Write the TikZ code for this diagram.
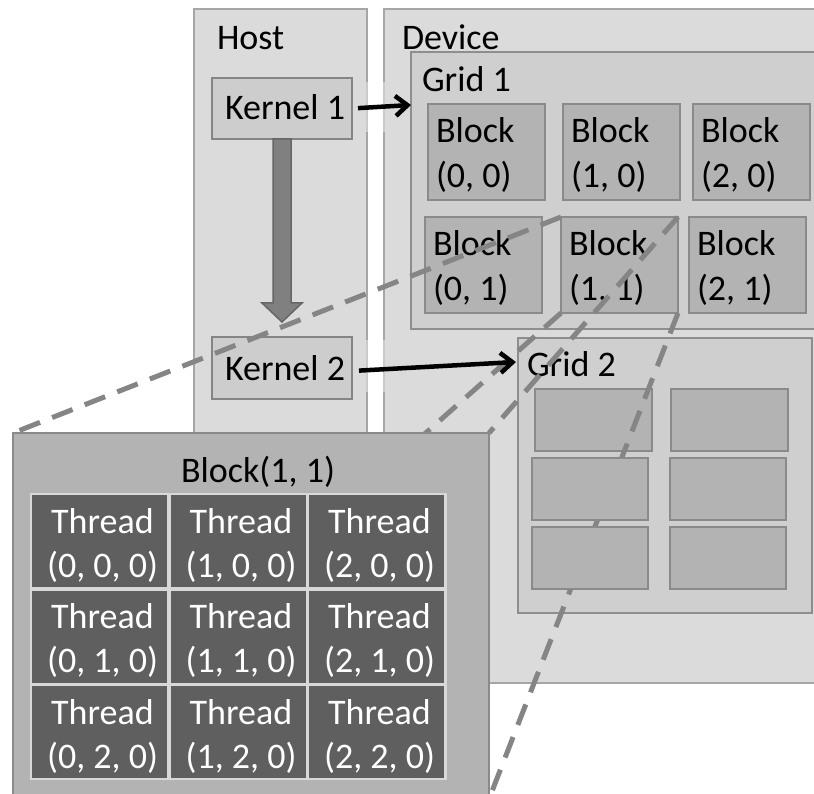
\documentclass[tikz,border=0pt]{standalone}
\usepackage{fontspec}
\setmainfont{Carlito}
\usetikzlibrary{arrows.meta,calc}

\definecolor{paneFill}{HTML}{DBDBDB}
\definecolor{paneEdge}{HTML}{A6A6A6}
\definecolor{paneGap}{HTML}{CACACA}
\definecolor{gridFill}{HTML}{CFCFCF}
\definecolor{gridEdge}{HTML}{8E8E8E}
\definecolor{blockFill}{HTML}{B3B3B3}
\definecolor{blockEdge}{HTML}{8A8A8A}
\definecolor{kernFill}{HTML}{CDCDCD}
\definecolor{kernEdge}{HTML}{858585}
\definecolor{fatFill}{HTML}{808080}
\definecolor{fatEdge}{HTML}{666666}
\definecolor{threadFill}{HTML}{5F5F5F}
\definecolor{threadSep}{HTML}{D8D8D8}
\definecolor{dashGray}{HTML}{858585}

% rectangle node given by its top-left corner and its size (in px-like pt)
\newcommand\boxnode[6]{%
  \node[#2, minimum width=#5pt, minimum height=#6pt] (#1) at (#3,#4) {};}

% one block of Grid 1 with its two-line label
\newcommand\gridblock[4]{%
  \boxnode{#1}{blockbox}{#2}{#3}{117}{96}
  \node[lbl] (#1-a) at ($(#1.north west)+(8,39)$) {Block};
  \node[lbl] (#1-b) at ($(#1.north west)+(8,84)$) {#4};}

\begin{document}
\begin{tikzpicture}[x=1pt,y=-1pt,
  box/.style={draw, line width=2pt, inner sep=0pt, outer sep=0pt, anchor=north west},
  pane/.style={box, fill=paneFill, draw=paneEdge},
  gridbox/.style={box, fill=gridFill, draw=gridEdge, line width=2.5pt},
  blockbox/.style={box, fill=blockFill, draw=blockEdge, line width=2.5pt},
  kernbox/.style={box, fill=kernFill, draw=kernEdge, line width=2.5pt},
  bigbox/.style={box, fill=blockFill, draw=blockEdge, line width=2.5pt},
  sepbox/.style={box, draw=none, fill=threadSep},
  cellbox/.style={box, draw=none, fill=threadFill},
  lbl/.style={font=\fontsize{36}{44}\selectfont, inner sep=0pt, outer sep=0pt, anchor=base west},
  tlbl/.style={lbl, anchor=base, text=white},
  conn/.style={line width=4.5pt, -{Straight Barb[length=12pt,width=20pt]}},
  fat/.style={fill=fatFill, draw=fatEdge, line width=1.5pt, line join=miter},
  proj/.style={draw=dashGray, line width=5pt, dash pattern=on 22pt off 13pt},
  gapmark/.style={draw=paneGap, line width=2.2pt}]

\useasboundingbox (0,0) rectangle (814,794);
\clip (0,0) rectangle (814,794);

% host and device panes
\boxnode{host}{pane}{194}{9}{173}{460}
\boxnode{device}{pane}{384}{9}{460}{674}
\node[lbl] (hostlbl) at (217,50) {Host};
\node[lbl] (devlbl) at (402,50) {Device};

% Grid 1
\boxnode{grid1}{gridbox}{411}{52}{430}{277}
\node[lbl] (g1lbl) at (422,92) {Grid 1};
\gridblock{b00}{428}{104}{(0, 0)}
\gridblock{b10}{563}{104}{(1, 0)}
\gridblock{b20}{693}{104}{(2, 0)}
\gridblock{b01}{425}{217}{(0, 1)}
\gridblock{b11}{561}{217}{(1, 1)}
\gridblock{b21}{689}{217}{(2, 1)}

% Grid 2 and its first row of blocks
\boxnode{grid2}{gridbox}{518}{338}{294}{275}
\node[lbl] (g2lbl) at (527,377) {Grid 2};
\boxnode{c00}{blockbox}{535}{389}{117}{62}
\boxnode{c10}{blockbox}{671}{389}{117}{62}

% kernels on the host
\boxnode{k1}{kernbox}{212}{78}{140}{61}
\boxnode{k2}{kernbox}{212}{337}{140}{62}
\node[lbl, anchor=base] (k1lbl) at (285,120) {Kernel 1};
\node[lbl, anchor=base] (k2lbl) at (285,381) {Kernel 2};

% launch order: fat arrow from Kernel 1 down to Kernel 2
\draw[fat] ($(k1.south)+(-9,0)$) -- ++(18,0) -- ++(0,164) -- ++(11,0)
  -- ++(-20,19) -- ++(-20,-19) -- ++(11,0) -- cycle;

% zoom-in projection of Block (1, 1)
\coordinate (bigNW) at (13,433);
\coordinate (bigNE) at (489,433);
\coordinate (bigSW) at (13,799);
\coordinate (bigSE) at (489,799);
\draw[proj] (b11.north west) -- (bigNW);
\draw[proj] (b11.north east) -- (bigNE);
\draw[proj] (b11.south west) -- (bigSW);
\draw[proj] (b11.south east) -- (bigSE);

% remaining blocks of Grid 2
\boxnode{c01}{blockbox}{532}{458}{116}{62}
\boxnode{c11}{blockbox}{670}{458}{116}{62}
\boxnode{c02}{blockbox}{532}{527}{116}{62}
\boxnode{c12}{blockbox}{670}{527}{116}{62}

% lighter spots on the pane borders where the launch arrows cross
\draw[gapmark] (367,82) -- (367,132);
\draw[gapmark] (384,82) -- (384,132);
\draw[gapmark] (367,340) -- (367,392);
\draw[gapmark] (384,340) -- (384,392);

% kernel launches
\coordinate (g1in) at (411,105);
\coordinate (g2in) at (516,362);
\draw[conn, shorten <=6pt] (k1.east) -- (g1in);
\draw[conn, shorten <=7pt] ($(k2.east)+(0,3)$) -- (g2in);

% enlarged Block (1, 1) with its threads
\node[bigbox, minimum width=476pt, minimum height=366pt] (big) at (bigNW) {};
\node[lbl, anchor=base] (biglbl) at (258,482) {Block(1, 1)};
\boxnode{tgrid}{sepbox}{30}{493}{417}{287}
\foreach \c in {0,1,2}{
  \foreach \r in {0,1,2}{
    \pgfmathsetmacro\xl{32+138.5*\c}
    \pgfmathsetmacro\yt{495+95.5*\r}
    \node[cellbox, minimum width=135pt, minimum height=92pt] (t\c\r) at (\xl,\yt) {};
    \node[tlbl] (t\c\r-a) at (\xl+70.5,\yt+38) {Thread};
    \node[tlbl] (t\c\r-b) at (\xl+70.5,\yt+82) {(\c, \r, 0)};
  }
}
\end{tikzpicture}
\end{document}
